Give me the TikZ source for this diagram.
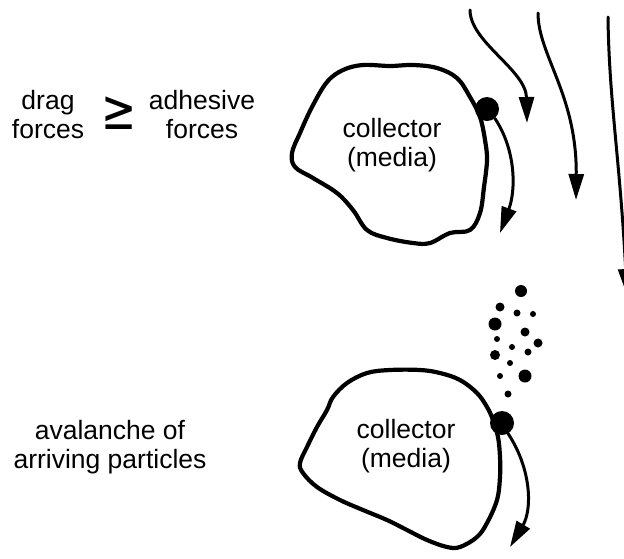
\documentclass[tikz,border=0pt]{standalone}
\usepackage{fontspec}
\setmainfont{Liberation Sans}
\newfontfamily\dejavu{DejaVu Sans}
\usetikzlibrary{arrows.meta}
\tikzset{
  blob/.style={line width=4.2pt, line join=round},
  flow/.style={line width=3pt, line cap=round, -{Triangle[length=26pt,width=15pt]}},
  lbl/.style={font=\fontsize{26.5}{29}\selectfont, align=center, inner sep=0pt},
  part/.style={circle, fill=black, inner sep=0pt},
}
\begin{document}
\begin{tikzpicture}[x=1pt,y=-1pt]
\useasboundingbox (0,0) rectangle (624,558);
\clip (0,0) rectangle (624,558);
% texts
\node[lbl] (drag) at (48,115) {drag\\forces};
\node[inner sep=0pt] (geq) at (119,113) {\scalebox{1.05}[1.4]{\dejavu\fontsize{40}{40}\selectfont ≥}};
\node[lbl] (adh) at (202,115) {adhesive\\forces};
\node[lbl] (aval) at (110,447) {avalanche of\\arriving particles};
% collector 1
\draw[blob] plot[smooth cycle, tension=0.6] coordinates {
 (327,82) (343,70) (363,65) (390,66) (413,65) (437,68) (457,78) (470,97)
 (480,117) (485,140) (487,160) (484,187) (480,213) (470,230) (450,233)
 (430,243) (413,243) (387,238) (367,230) (353,210) (337,193) (313,178)
 (295,167) (292,153) (300,133) (312,107)};
\node[lbl] (c1) at (392,145) {collector\\(media)};
% collector 2
\draw[blob] plot[smooth cycle, tension=0.6] coordinates {
 (333,397) (347,383) (367,373) (390,370) (420,370) (440,373) (460,380)
 (477,393) (487,407) (493,420) (498,437) (500,457) (500,477) (497,500)
 (487,523) (477,537) (460,547) (447,547) (427,540) (407,530) (387,520)
 (363,510) (340,500) (317,487) (303,473) (300,463) (307,447) (317,427)
 (327,410)};
\node[lbl] (c2) at (406,446) {collector\\(media)};
% particles on collectors
\node[part, minimum size=24pt] (p1) at (487,109) {};
\node[part, minimum size=24pt] (p2) at (502,423) {};
% streamlines
\coordinate (s1a) at (470,10);  \coordinate (s1b) at (527,123);
\coordinate (s2a) at (538,13);  \coordinate (s2b) at (576,200);
\coordinate (s3a) at (608,17);  \coordinate (s3b) at (627,295);
\draw[flow] (s1a) .. controls (470,42) and (526,70) .. (s1b);
\draw[flow] (s2a) .. controls (538,55) and (577,95) .. (s2b);
\draw[flow] (s3a) .. controls (609,100) and (620,160) .. (s3b);
% particle paths
\coordinate (e1) at (500,233);
\coordinate (e2) at (510,547);
\draw[flow] (p1.-50) .. controls (516,150) and (516,190) .. (e1);
\draw[flow] (p2.-60) .. controls (532,470) and (532,510) .. (e2);
% arriving particles
\foreach \x/\y/\r [count=\i] in {521/291/6, 500/307/4.5, 517/313/3.5, 533/314/3,
  495/324/6.5, 525/332/4.5, 497/339/3, 538/343/4.5, 512/347/3, 495/355/5,
  528/352/3.5, 510/363/3, 525/376/6.5, 500/376/3, 508/394/3.5}
  \node[part, minimum size=2*\r pt] (a\i) at (\x,\y) {};
\end{tikzpicture}
\end{document}
